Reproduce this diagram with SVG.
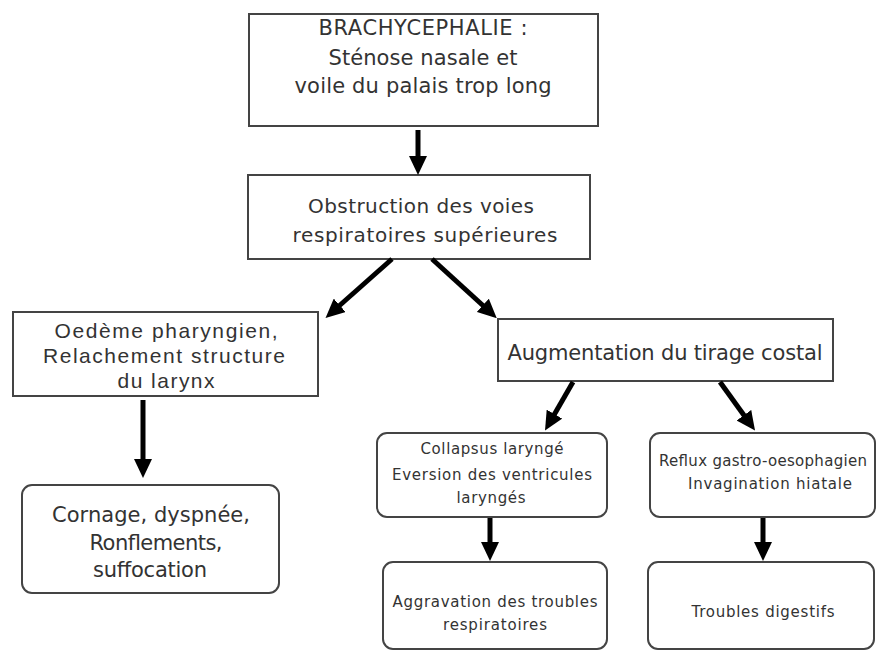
<svg xmlns="http://www.w3.org/2000/svg" width="876" height="651" viewBox="0 0 876 651">
<style>
.box{fill:#fff;stroke:#444;stroke-width:2}
.t{font-family:"DejaVu Sans",Verdana,sans-serif;fill:#333;text-anchor:middle}
.a{font-family:"Liberation Sans",Arial,sans-serif;fill:#333;text-anchor:middle}
.c line{stroke:#000;stroke-width:5;marker-end:url(#ah)}
</style>
<defs>
<marker id="ah" markerUnits="userSpaceOnUse" markerWidth="19" markerHeight="18" viewBox="0 -9 19 18" refX="1" refY="0" orient="auto">
<path d="M0,-9 L19,0 L0,9 z" fill="#000"/>
</marker>
</defs>
<rect width="876" height="651" fill="#fff"/>
<g id="n1">
<rect class="box" x="249" y="14" width="349" height="112"/>
<text class="t" x="423" y="35" font-size="21" textLength="209">BRACHYCEPHALIE :</text>
<text class="t" x="423" y="65" font-size="21" textLength="189">Sténose nasale et</text>
<text class="t" x="423" y="93" font-size="21" textLength="257">voile du palais trop long</text>
</g>
<g id="n2">
<rect class="box" x="248" y="175" width="342" height="84"/>
<text class="t" x="421" y="213" font-size="20" textLength="226">Obstruction des voies</text>
<text class="t" x="425" y="242" font-size="20" textLength="265">respiratoires supérieures</text>
</g>
<g id="n3">
<rect class="box" x="13" y="312" width="305" height="84"/>
<text class="a" x="166" y="338" font-size="21" textLength="223">Oedème pharyngien,</text>
<text class="a" x="164" y="363" font-size="21" textLength="242">Relachement structure</text>
<text class="a" x="166" y="388" font-size="21" textLength="97">du larynx</text>
</g>
<g id="n4">
<rect class="box" x="22" y="485" width="257" height="108" rx="10"/>
<text class="t" x="151" y="522" font-size="21" textLength="198">Cornage, dyspnée,</text>
<text class="t" x="156" y="550" font-size="21" textLength="133">Ronflements,</text>
<text class="t" x="150" y="577" font-size="21" textLength="114">suffocation</text>
</g>
<g id="n5">
<rect class="box" x="498" y="319" width="335" height="62"/>
<text class="t" x="665" y="360" font-size="21" textLength="315">Augmentation du tirage costal</text>
</g>
<g id="n6">
<rect class="box" x="377" y="433" width="230" height="84" rx="10"/>
<text class="t" x="492" y="454" font-size="15" textLength="143">Collapsus laryngé</text>
<text class="t" x="492" y="480" font-size="15" textLength="200">Eversion des ventricules</text>
<text class="t" x="491" y="503" font-size="15" textLength="69">laryngés</text>
</g>
<g id="n7">
<rect class="box" x="650" y="433" width="225" height="84" rx="10"/>
<text class="t" x="659" y="466" font-size="15" textLength="208" style="text-anchor:start">Reflux gastro-oesophagien</text>
<text class="t" x="770" y="489" font-size="15" textLength="164">Invagination hiatale</text>
</g>
<g id="n8">
<rect class="box" x="383" y="562" width="224" height="87" rx="10"/>
<text class="t" x="495" y="607" font-size="15" textLength="205">Aggravation des troubles</text>
<text class="t" x="495" y="630" font-size="15" textLength="104">respiratoires</text>
</g>
<g id="n9">
<rect class="box" x="648" y="562" width="226" height="87" rx="10"/>
<text class="t" x="763" y="617" font-size="15" textLength="143">Troubles digestifs</text>
</g>
<g id="connectors" class="c">
<line x1="418" y1="130" x2="418" y2="157"/>
<line x1="392" y1="259" x2="339" y2="306"/>
<line x1="432" y1="259" x2="483.5" y2="306"/>
<line x1="143" y1="400" x2="143" y2="460"/>
<line x1="573" y1="382" x2="554" y2="415"/>
<line x1="720" y1="382" x2="744.5" y2="416"/>
<line x1="490" y1="518" x2="490" y2="543"/>
<line x1="763" y1="518" x2="763" y2="543"/>
</g>
</svg>
